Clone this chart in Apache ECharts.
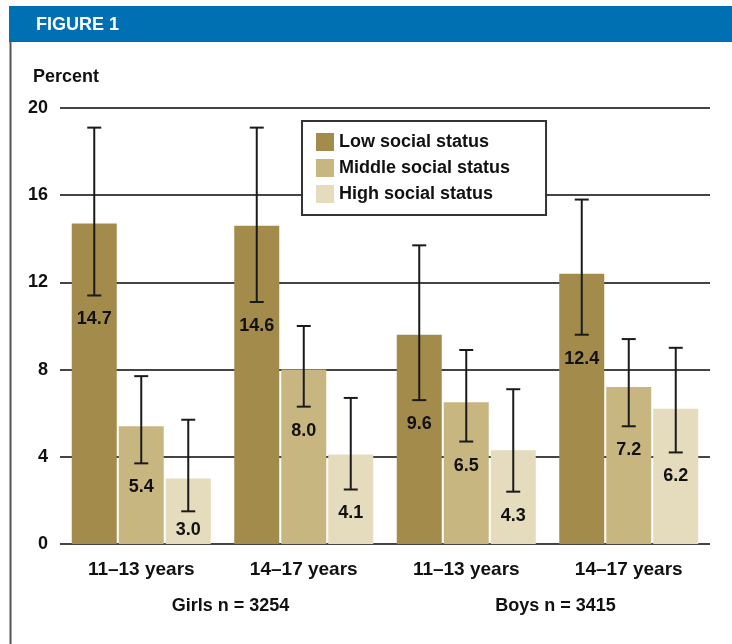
<!DOCTYPE html>
<html>
<head>
<meta charset="utf-8">
<script src="https://cdn.jsdelivr.net/npm/echarts@6/dist/echarts.min.js"></script>
<style>
  html, body { margin: 0; padding: 0; background: #ffffff; }
  #chart { width: 732px; height: 644px; }
</style>
</head>
<body>
<div id="chart"></div>
<script>
// Age groups (x axis) and the sex groups printed underneath them
const categories = ['11\u201313 years', '14\u201317 years', '11\u201313 years', '14\u201317 years'];
const groupLabels = ['Girls n = 3254', 'Boys n = 3415'];
const seriesNames = ['Low social status', 'Middle social status', 'High social status'];

// Percentages by social status
const lowValues  = [14.7, 14.6, 9.6, 12.4];
const midValues  = [5.4, 8.0, 6.5, 7.2];
const highValues = [3.0, 4.1, 4.3, 6.2];

// Confidence interval bounds (lower / upper)
const lowLower  = [11.4, 11.1, 6.6, 9.6];
const lowUpper  = [19.1, 19.1, 13.7, 15.8];
const midLower  = [3.7, 6.3, 4.7, 5.4];
const midUpper  = [7.7, 10.0, 8.9, 9.4];
const highLower = [1.5, 2.5, 2.4, 4.2];
const highUpper = [5.7, 6.7, 7.1, 9.0];

const yTicks = [0, 4, 8, 12, 16, 20];

const colors = ['#a28b4b', '#c8b680', '#e5dbbd'];
const BAR_W = 45;
const BAR_GAP = 2;
const FONT = '"Liberation Sans", Arial, sans-serif';

const valueSets = [lowValues, midValues, highValues];
const lowerSets = [lowLower, midLower, highLower];
const upperSets = [lowUpper, midUpper, highUpper];

// Whiskers plus the value label sitting just under the lower whisker
function errorRenderer(idx) {
  return function (params, api) {
    const c = api.value(0);
    const lo = api.coord([c, api.value(1)]);
    const hi = api.coord([c, api.value(2)]);
    const base = api.coord([c, 0]);
    const x = lo[0] + (idx - 1) * (BAR_W + BAR_GAP);
    const cap = 7;
    const stroke = { stroke: '#1a1a1a', lineWidth: 2 };
    const labelY = Math.min(lo[1] + 24, base[1] - 14);
    return {
      type: 'group',
      children: [
        { type: 'line', shape: { x1: x, y1: hi[1], x2: x, y2: lo[1] }, style: stroke },
        { type: 'line', shape: { x1: x - cap, y1: hi[1], x2: x + cap, y2: hi[1] }, style: stroke },
        { type: 'line', shape: { x1: x - cap, y1: lo[1], x2: x + cap, y2: lo[1] }, style: stroke },
        {
          type: 'text',
          x: x, y: labelY,
          style: {
            text: api.value(3).toFixed(1),
            fill: '#111',
            font: 'bold 18px ' + FONT,
            align: 'center',
            verticalAlign: 'middle'
          }
        }
      ]
    };
  };
}

const barSeries = seriesNames.map((name, i) => ({
  name: name,
  type: 'bar',
  data: valueSets[i],
  barWidth: BAR_W,
  barGap: (BAR_GAP / BAR_W * 100) + '%',
  itemStyle: { color: colors[i] },
  z: 2
}));

const errorSeries = seriesNames.map((name, i) => ({
  name: name + ' CI',
  type: 'custom',
  renderItem: errorRenderer(i),
  encode: { x: 0, y: [1, 2] },
  data: categories.map((_, k) => [k, lowerSets[i][k], upperSets[i][k], valueSets[i][k]]),
  z: 4,
  silent: true
}));

const chart = echarts.init(document.getElementById('chart'), null, { renderer: 'canvas' });

chart.setOption({
  animation: false,
  backgroundColor: '#ffffff',
  title: [
    {
      text: 'FIGURE 1',
      left: 36, top: 16, padding: 0,
      textStyle: { color: '#ffffff', fontSize: 18, fontWeight: 900, fontFamily: FONT }
    },
    {
      text: 'Percent',
      left: 33, top: 68, padding: 0,
      textStyle: { color: '#111', fontSize: 18, fontWeight: 'bold', fontFamily: FONT }
    }
  ],
  graphic: [
    { type: 'rect', shape: { x: 9, y: 6, width: 723, height: 36 }, style: { fill: '#0070b2' }, z: -1 },
    { type: 'line', shape: { x1: 10.5, y1: 42, x2: 10.5, y2: 644 }, style: { stroke: '#555', lineWidth: 2 }, z: -1 }
  ],
  legend: {
    data: seriesNames,
    orient: 'vertical',
    left: 302, top: 121,
    padding: [12, 36, 12, 14],
    itemWidth: 18, itemHeight: 18, itemGap: 8,
    backgroundColor: '#ffffff',
    borderColor: '#333',
    borderWidth: 2,
    borderRadius: 0,
    icon: 'rect',
    selectedMode: false,
    textStyle: { color: '#111', fontSize: 18, fontWeight: 'bold', fontFamily: FONT },
    z: 10
  },
  grid: { left: 60, right: 22, top: 108, bottom: 100, containLabel: false },
  xAxis: [
    {
      type: 'category',
      data: categories,
      axisLine: { show: false },
      axisTick: { show: false },
      axisLabel: { color: '#111', fontSize: 19, fontWeight: 'bold', fontFamily: FONT, margin: 16 }
    },
    {
      type: 'category',
      data: groupLabels,
      position: 'bottom',
      offset: 53,
      axisLine: { show: false },
      axisTick: { show: false },
      axisLabel: { color: '#111', fontSize: 18, fontWeight: 'bold', fontFamily: FONT, margin: 0, padding: [0, 0, 0, 16] }
    }
  ],
  yAxis: {
    type: 'value',
    min: yTicks[0],
    max: yTicks[yTicks.length - 1],
    interval: yTicks[1] - yTicks[0],
    axisLine: { show: false },
    axisTick: { show: false },
    axisLabel: { color: '#111', fontSize: 18, fontWeight: 'bold', fontFamily: FONT, margin: 12 },
    splitLine: { show: true, lineStyle: { color: '#444', width: 2 } }
  },
  series: barSeries.concat(errorSeries)
});
</script>
</body>
</html>
